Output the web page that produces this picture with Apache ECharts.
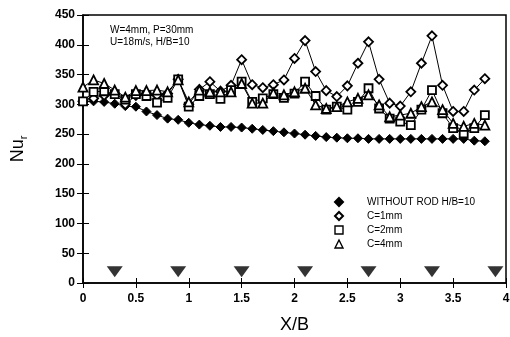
<!DOCTYPE html>
<html><head><meta charset="utf-8">
<script src="https://cdn.jsdelivr.net/npm/echarts@6/dist/echarts.min.js"></script>
<style>html,body{margin:0;padding:0;background:#fff}#c{width:510px;height:337px}</style>
</head><body><div id="c"></div>
<script>
const xPos = [0,0.1,0.2,0.3,0.4,0.5,0.6,0.7,0.8,0.9,1.0,1.1,1.2,1.3,1.4,1.5,1.6,1.7,1.8,1.9,2.0,2.1,2.2,2.3,2.4,2.5,2.6,2.7,2.8,2.9,3.0,3.1,3.2,3.3,3.4,3.5,3.6,3.7,3.8];
const withoutRod = [304,305,304,301,297,296,288,282,276,274,269,266,264,262,262,261,259,257,255,253,251,249,247,245,244,243,243,242,242,242,242,242,242,242,242,242,242,239,238];
const c1mm = [305,310,315,318,300,315,318,315,318,342,300,325,338,322,332,375,333,328,333,341,377,407,355,323,313,331,369,405,342,302,297,321,369,415,332,288,288,324,343];
const c2mm = [305,321,322,317,308,317,314,303,311,342,296,314,317,309,324,338,304,310,317,311,318,338,314,291,296,291,304,327,293,276,271,265,291,324,285,260,251,260,282];
const c4mm = [329,341,335,324,312,323,323,324,321,341,304,324,321,321,321,335,302,302,319,316,321,327,299,293,296,304,310,316,299,279,282,285,296,304,291,268,263,268,265];
const rodX = [0.3,0.9,1.5,2.1,2.7,3.3,3.9];
const rodY = 19;
const xTicks = [0,0.5,1,1.5,2,2.5,3,3.5,4];
const yTicks = [0,50,100,150,200,250,300,350,400,450];
const names = ['WITHOUT ROD H/B=10','C=1mm','C=2mm','C=4mm'];
const note = ['W=4mm, P=30mm','U=18m/s, H/B=10'];

const pair = (ys) => xPos.map((x,i)=>[x,ys[i]]);
const font = 'Liberation Sans, Arial, sans-serif';
const chart = echarts.init(document.getElementById('c'));
const lbl = {fontFamily:font,fontWeight:'bold',fontSize:12,color:'#000'};
chart.setOption({
  animation:false,
  backgroundColor:'#fff',
  grid:{left:83,right:4,top:15,bottom:54,show:true,borderColor:'#000',borderWidth:1.5,outerBoundsMode:'none',containLabel:false},
  xAxis:[{type:'value',min:0,max:4,interval:0.5,position:'bottom',
    axisLine:{lineStyle:{color:'#000',width:1.5}},
    axisTick:{inside:true,length:5,lineStyle:{color:'#000'}},
    axisLabel:Object.assign({margin:10,formatter:v=>xTicks.includes(v)?String(v):''},lbl),
    splitLine:{show:false},
    name:'X/B',nameLocation:'middle',nameGap:33,
    nameTextStyle:{fontFamily:font,fontSize:18,color:'#000'}},
   {type:'value',min:0,max:4,interval:0.5,position:'top',
    axisLine:{show:false},axisTick:{inside:true,length:5,lineStyle:{color:'#000'}},
    axisLabel:{show:false},splitLine:{show:false}}],
  yAxis:[{type:'value',min:0,max:450,interval:50,position:'left',
    axisLine:{lineStyle:{color:'#000',width:1.5}},
    axisTick:{inside:true,length:6,lineStyle:{color:'#000'}},
    axisLabel:Object.assign({margin:8,formatter:v=>yTicks.includes(v)?String(v):''},lbl),
    splitLine:{show:false},
    name:'{a|Nu}{b|r}',nameLocation:'middle',nameGap:54,nameRotate:90,
    nameTextStyle:{rich:{a:{fontFamily:font,fontSize:18,color:'#000'},b:{fontFamily:font,fontSize:11,color:'#000',padding:[10,0,0,0]}}}},
   {type:'value',min:0,max:450,interval:50,position:'right',
    axisLine:{show:false},axisTick:{inside:true,length:6,lineStyle:{color:'#000'}},
    axisLabel:{show:false},splitLine:{show:false}}],
  legend:{orient:'vertical',left:329,top:192,itemWidth:8,itemHeight:8,itemGap:4,
    textStyle:{fontFamily:font,fontSize:10,color:'#000',padding:[0,0,0,19]},
    data:[{name:names[0],icon:'diamond'},{name:names[1],icon:'diamond'},
          {name:names[2],icon:'rect',itemStyle:{borderWidth:1.4}},{name:names[3],icon:'triangle',itemStyle:{borderWidth:1.4}}]},
  graphic:[{type:'text',left:110,top:24,style:{text:note.join('\n'),fontFamily:font,fontSize:10,lineHeight:12,fill:'#000'}}],
  series:[
    {name:names[0],type:'line',data:pair(withoutRod),symbol:'diamond',symbolSize:9,
     lineStyle:{color:'#000',width:1},itemStyle:{color:'#000',borderColor:'#000',borderWidth:1}},
    {name:names[1],type:'line',data:pair(c1mm),symbol:'diamond',symbolSize:9,
     lineStyle:{color:'#000',width:1},itemStyle:{color:'#fff',borderColor:'#000',borderWidth:1.8}},
    {name:names[2],type:'line',data:pair(c2mm),symbol:'rect',symbolSize:8,
     lineStyle:{color:'#000',width:1},itemStyle:{color:'#fff',borderColor:'#000',borderWidth:1.8}},
    {name:names[3],type:'line',data:pair(c4mm),symbol:'triangle',symbolSize:9,
     lineStyle:{color:'#000',width:1},itemStyle:{color:'#fff',borderColor:'#000',borderWidth:1.8}},
    {name:'rod',type:'scatter',data:rodX.map(x=>[x,rodY]),symbol:'triangle',symbolRotate:180,symbolSize:[16,11],
     itemStyle:{color:'#000'},silent:true}
  ]
});
</script></body></html>
